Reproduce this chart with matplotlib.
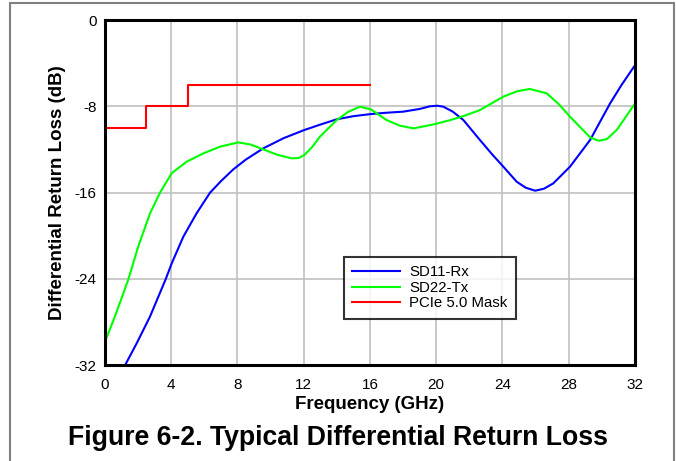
import matplotlib.pyplot as plt
from matplotlib.patches import Rectangle

# SD11-Rx (blue)
rx_f = [1.27, 1.91, 2.72, 3.66, 4.03, 4.73, 5.53, 6.34, 7.0, 7.75, 8.5, 9.56, 10.8, 12.04, 13.0,
        13.99, 15.0, 16.06, 17.0, 18.01, 19.0, 19.63, 20.07, 20.43, 21.0, 21.64, 22.64, 23.4,
        24.05, 24.86, 25.4, 25.97, 26.5, 27.07, 28.08, 29.29, 30.5, 31.2, 31.94]
rx_db = [-31.85, -30.0, -27.5, -24.06, -22.57, -20.1, -17.93, -16.02, -14.95, -13.85, -12.95,
         -11.9, -10.95, -10.2, -9.7, -9.21, -8.92, -8.72, -8.6, -8.5, -8.25, -8.0, -7.95, -8.04,
         -8.5, -9.28, -11.13, -12.5, -13.6, -15.0, -15.55, -15.83, -15.65, -15.15, -13.6,
         -11.13, -7.73, -6.0, -4.33]

# SD22-Tx (green)
tx_f = [0.0, 0.6, 1.41, 2.01, 2.72, 3.32, 4.03, 4.93, 5.94, 6.94, 8.05, 8.8, 9.56, 10.4, 11.27,
        11.7, 12.04, 12.5, 12.98, 13.99, 14.7, 15.4, 16.06, 17.0, 17.8, 18.62, 19.3, 20.07, 20.8,
        21.54, 22.64, 24.05, 24.9, 25.66, 26.67, 27.4, 28.08, 29.29, 29.79, 30.3, 30.9, 31.94]
tx_db = [-29.84, -27.5, -24.06, -21.0, -17.93, -16.02, -14.2, -13.14, -12.37, -11.75, -11.35,
         -11.55, -12.0, -12.5, -12.83, -12.8, -12.52, -11.8, -10.82, -9.28, -8.5, -8.04, -8.29,
         -9.28, -9.8, -10.05, -9.85, -9.6, -9.3, -8.97, -8.35, -7.11, -6.6, -6.4, -6.8, -7.8,
         -8.97, -10.88, -11.2, -11.05, -10.2, -7.88]

# PCIe 5.0 mask (red, step)
mask_f = [0, 2.5, 2.5, 5, 5, 16]
mask_db = [-10, -10, -8, -8, -6, -6]

xticks = [0, 4, 8, 12, 16, 20, 24, 28, 32]
yticks = [0, -8, -16, -24, -32]

plt.rcParams['font.family'] = ['Liberation Sans', 'DejaVu Sans']
plt.rcParams['axes.unicode_minus'] = False

fig = plt.figure(figsize=(6.76, 4.61), dpi=100)
ax = fig.add_axes([0.1553, 0.2082, 0.784, 0.7484])

ax.plot(rx_f, rx_db, color='#0000ff', lw=1.5, label='SD11-Rx')
ax.plot(tx_f, tx_db, color='#00ff00', lw=1.5, label='SD22-Tx')
ax.plot(mask_f, mask_db, color='#ff0000', lw=1.5, label='PCIe 5.0 Mask')

ax.set_xlim(0, 32)
ax.set_ylim(-32, 0)
ax.set_xticks(xticks)
ax.set_yticks(yticks)
ax.tick_params(length=0, labelsize=11)
ax.tick_params(axis='x', pad=9)
ax.tick_params(axis='y', pad=6)
ax.grid(True, color='#c0c0c0', lw=1.2)
for s in ax.spines.values():
    s.set_linewidth(2.2)
    s.set_color('black')

ax.set_xlabel('Frequency (GHz)', fontsize=13.5, fontweight='bold', labelpad=3)
ax.set_ylabel('Differential Return Loss (dB)', fontsize=13.5, fontweight='bold', labelpad=6)

leg = ax.legend(loc='upper left', bbox_to_anchor=(0.451, 0.313), borderaxespad=0,
                fontsize=10.8, frameon=True, fancybox=False, edgecolor='black',
                handlelength=3.2, borderpad=0.55, labelspacing=0.1, handletextpad=0.6)
leg.get_frame().set_linewidth(1.5)

fig.text(0.5, 0.05, 'Figure 6-2. Typical Differential Return Loss',
         ha='center', va='center', fontsize=19.2, fontweight='bold')

fig.add_artist(Rectangle((10 / 676, -0.05), 664 / 676, 1.043, transform=fig.transFigure,
                         fill=False, edgecolor='#808080', lw=1.5))

fig.savefig('out.png', dpi=100)
